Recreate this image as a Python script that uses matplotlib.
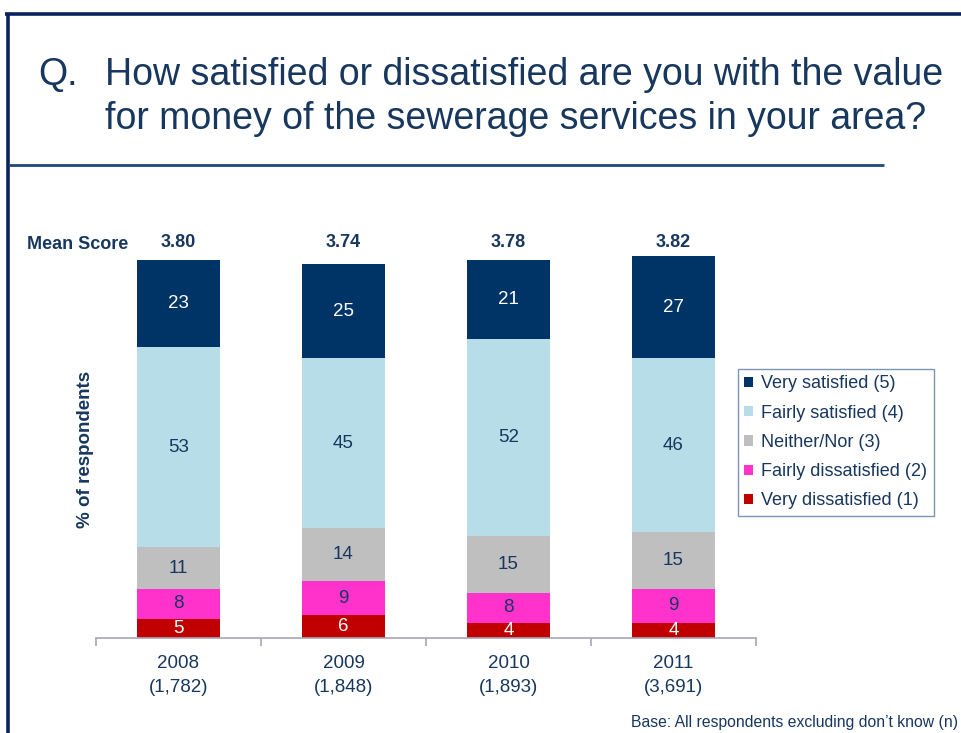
import matplotlib
matplotlib.use("Agg")
import matplotlib.pyplot as plt
from matplotlib.lines import Line2D
from matplotlib.patches import Patch
import numpy as np

plt.rcParams['font.family'] = ['Liberation Sans', 'DejaVu Sans']

years = ["2008", "2009", "2010", "2011"]
bases = ["(1,782)", "(1,848)", "(1,893)", "(3,691)"]
mean_scores = ["3.80", "3.74", "3.78", "3.82"]

very_dissatisfied = [5, 6, 4, 4]
fairly_dissatisfied = [8, 9, 8, 9]
neither_nor = [11, 14, 15, 15]
fairly_satisfied = [53, 45, 52, 46]
very_satisfied = [23, 25, 21, 27]

series_names = ["Very dissatisfied (1)", "Fairly dissatisfied (2)", "Neither/Nor (3)",
                "Fairly satisfied (4)", "Very satisfied (5)"]
series_values = [very_dissatisfied, fairly_dissatisfied, neither_nor,
                 fairly_satisfied, very_satisfied]
series_colors = ["#C00000", "#FF33CC", "#BFBFBF", "#B7DEE8", "#003366"]
label_colors = ["white", "#17375E", "#17375E", "#17375E", "white"]

NAVY = "#17375E"
BORDER = "#0B2260"

fig = plt.figure(figsize=(9.61, 7.33), dpi=100)

# slide frame: top rule, left rule and the rule under the question
fig.add_artist(Line2D([5 / 961, 1], [1 - 14 / 733] * 2, color=BORDER, lw=2.6,
                      transform=fig.transFigure, solid_capstyle="butt"))
fig.add_artist(Line2D([8 / 961] * 2, [0, 1 - 13 / 733], color=BORDER, lw=2.6,
                      transform=fig.transFigure, solid_capstyle="butt"))
fig.add_artist(Line2D([9 / 961, 884 / 961], [1 - 164.5 / 733] * 2, color="#1F497D", lw=2.0,
                      transform=fig.transFigure, solid_capstyle="butt"))

# question
fig.text(38 / 961, 1 - 75 / 733, "Q.", fontsize=27, color=NAVY, va="center", ha="left")
fig.text(105 / 961, 1 - 75 / 733, "How satisfied or dissatisfied are you with the value",
         fontsize=27, color=NAVY, va="center", ha="left")
fig.text(105 / 961, 1 - 119 / 733, "for money of the sewerage services in your area?",
         fontsize=27, color=NAVY, va="center", ha="left")

ax = fig.add_axes([96 / 961, 95 / 733, 660 / 961, 378 / 733])
x = np.arange(len(years))
bottom = np.zeros(len(years))
handles = []
for name, vals, col, lcol in zip(series_names, series_values, series_colors, label_colors):
    vals = np.array(vals, dtype=float)
    ax.bar(x, vals, bottom=bottom, width=0.505, color=col, edgecolor="none",
           clip_on=False)
    for xi, v, b in zip(x, vals, bottom):
        ax.text(xi, b + v / 2, f"{int(v)}", ha="center", va="center",
                fontsize=13.5, color=lcol)
    bottom += vals
    handles.append(Patch(facecolor=col, edgecolor="none", label=name))

ax.set_xlim(-0.5, len(years) - 0.5)
ax.set_ylim(0, 100)
for s in ["left", "right", "top"]:
    ax.spines[s].set_visible(False)
ax.spines["bottom"].set_color("#A6A6B6")
ax.spines["bottom"].set_linewidth(1.2)
ax.set_yticks([])
ax.set_xticks(np.arange(-0.5, len(years), 1.0))
ax.set_xticklabels([])
ax.tick_params(axis="x", length=6, color="#A6A6B6", width=1.2)
for xi, yr, n in zip(x, years, bases):
    ax.text(xi, -4.5, f"{yr}\n{n}", ha="center", va="top", fontsize=13.5,
            color=NAVY, linespacing=1.5)

# mean scores above each bar
for xi, m in zip(x, mean_scores):
    ax.text(xi, 104.5, m, ha="center", va="center", fontsize=13,
            fontweight="bold", color=NAVY)
fig.text(128 / 961, 1 - 244 / 733, "Mean Score", ha="right", va="center",
         fontsize=13, fontweight="bold", color=NAVY)

fig.text(86 / 961, 1 - 449 / 733, "% of respondents", rotation=90, ha="center",
         va="center", fontsize=13.5, fontweight="bold", color=NAVY)

leg = fig.legend(handles=handles[::-1], loc="upper left",
                 bbox_to_anchor=(738 / 961, 1 - 369 / 733), frameon=True,
                 fancybox=False, fontsize=13, handlelength=0.5, handleheight=0.5,
                 handletextpad=0.45, labelspacing=0.68, borderpad=0.35,
                 borderaxespad=0, labelcolor=NAVY)
leg.get_frame().set_edgecolor("#5A7BA5")
leg.get_frame().set_linewidth(1.0)

fig.text(958 / 961, 1 - 722 / 733, "Base: All respondents excluding don\u2019t know (n)",
         ha="right", va="center", fontsize=11.3, color=NAVY)

fig.savefig("out.png", dpi=100)
